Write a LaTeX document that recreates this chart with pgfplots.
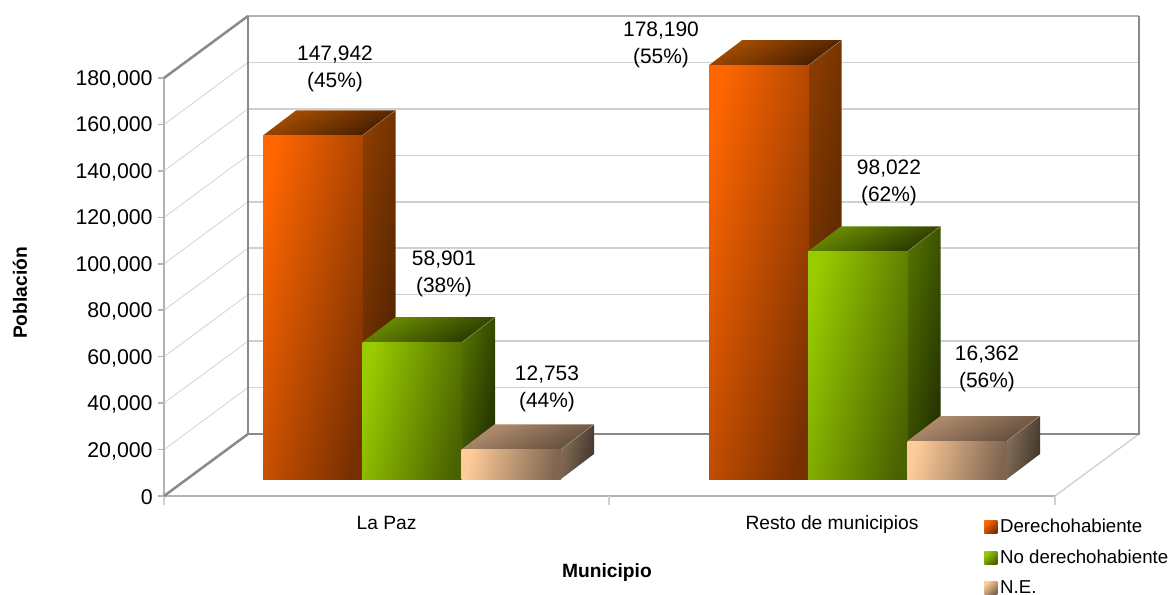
\documentclass[border=0pt]{standalone}
\usepackage{pgfplots}
\pgfplotsset{compat=1.18}
\usepackage{fontspec}
\setmainfont{Liberation Sans}

% colours: front light/dark, top light/dark, side light/dark
\definecolor{orFa}{HTML}{FF6600}\definecolor{orFb}{HTML}{783000}
\definecolor{orTa}{HTML}{AD5000}\definecolor{orTb}{HTML}{3F1C00}
\definecolor{orSa}{HTML}{8A3C00}\definecolor{orSb}{HTML}{451E00}
\definecolor{orE}{HTML}{B08060}
\definecolor{grFa}{HTML}{99CC00}\definecolor{grFb}{HTML}{4A6200}
\definecolor{grTa}{HTML}{6E9200}\definecolor{grTb}{HTML}{263300}
\definecolor{grSa}{HTML}{527000}\definecolor{grSb}{HTML}{1F2B00}
\definecolor{grE}{HTML}{8A9A60}
\definecolor{taFa}{HTML}{FFCC99}\definecolor{taFb}{HTML}{806650}
\definecolor{taTa}{HTML}{B89272}\definecolor{taTb}{HTML}{5E4A3A}
\definecolor{taSa}{HTML}{857059}\definecolor{taSb}{HTML}{40342A}
\definecolor{taE}{HTML}{A89888}
\definecolor{wallD}{HTML}{8A8A8A}
\definecolor{wallL}{HTML}{B3B3B3}
\definecolor{gridc}{HTML}{D0D0D0}

% 1 px = 0.75pt; 430.62 units per px on y. Depth of a bar 33 px, 25 px = 10766 units
\newcommand{\threeD}[3]{% left edge, value, colour prefix
  \edef\xa{\fpeval{#1+33}}\edef\xb{\fpeval{#1+99.5}}\edef\xc{\fpeval{#1+132.5}}\edef\xm{\fpeval{#1+49.75}}
  \edef\yt{\fpeval{#2+10766}}
  \addplot[forget plot,draw=none,yshift=12.75pt,top color=#3Sa,bottom color=#3Sb,shading angle=80]
    coordinates {(\xb,0)(\xc,10766)(\xc,\yt)(\xb,#2)} --cycle;
  \addplot[forget plot,draw=none,yshift=12.75pt,top color=#3Ta,bottom color=#3Tb,shading angle=25]
    coordinates {(#1,#2)(\xa,\yt)(\xc,\yt)(\xb,#2)} --cycle;
  \addplot[forget plot,#3E,line width=0.35pt,yshift=12.75pt] coordinates {(\xb,#2)(\xc,\yt)};
  \addplot[forget plot,ybar,bar width=74.6pt,bar shift=0pt,draw=none,yshift=12.75pt,top color=#3Fa,bottom color=#3Fb,shading angle=78]
    coordinates {(\xm,#2)};
}
\newcommand{\swatch}[1]{\addlegendimage{legend image code/.code={%
  \path[draw=none,top color=#1Fa,bottom color=#1Fb,shading angle=45] (0pt,-4.9pt) rectangle (9.75pt,4.9pt);}}}

\begin{document}
\begin{tikzpicture}
\useasboundingbox (-123pt,-73.5pt) rectangle (755.25pt,372pt);
\begin{axis}[
    scale only axis,
    width=731.25pt,
    height=360pt,
    xmin=164, xmax=1139,
    ymin=0, ymax=206700,
    clip=false,
    axis line style={draw=none},
    axis x line*=bottom,
    axis y line*=left,
    font=\fontsize{16}{18}\selectfont,
    ytick={0,20000,40000,60000,80000,100000,120000,140000,160000,180000},
    scaled y ticks=false,
    yticklabel style={yshift=-1.1pt,xshift=-0.5pt,/pgf/number format/.cd,fixed,1000 sep={,},assume math mode=true},
    y tick style={draw=wallL,line width=1.1pt},
    major tick length=4.5pt,
    tick align=outside,
    tick pos=left,
    xtick={386.5,832},
    xticklabels={La Paz,Resto de municipios},
    x tick style={draw=none},
    xticklabel style={font=\fontsize{14.4}{17}\selectfont,yshift=-7pt},
    xlabel={\textbf{Municipio}},
    ylabel={\textbf{Población}},
    xlabel style={font=\fontsize{14.4}{17}\selectfont,at={(axis description cs:0.4543,-0.1604)},anchor=center},
    ylabel style={font=\fontsize{14.4}{17}\selectfont,at={(axis description cs:-0.1477,0.4229)},anchor=center},
    legend style={at={(axis description cs:0.8415,-0.0425)},anchor=north west,draw=none,fill=none,
      inner sep=0pt,outer sep=0pt,font=\fontsize{14}{16}\selectfont,
      /tikz/every even column/.append style={column sep=3.5pt},
      /tikz/row sep=7.4pt},
    legend cell align=left,
]
% walls: grid lines first, frame over them
\pgfplotsinvokeforeach{20000,40000,60000,80000,100000,120000,140000,160000}{
  \edef\yb{\fpeval{#1+26699}}
  \addplot[forget plot,gridc,line width=0.55pt] coordinates {(164,#1)(248,\yb)};
  \addplot[forget plot,gridc,line width=1.1pt] coordinates {(248,\yb)(1139,\yb)};
}
\addplot[forget plot,gridc,line width=1pt] coordinates {(1055,0)(1139,26699)};
\addplot[forget plot,wallL,line width=1.7pt] coordinates {(164,0)(1055,0)};
\addplot[forget plot,wallL,line width=1.9pt] coordinates {(164,0)(164,180000)};
\addplot[forget plot,gridc,line width=1pt] coordinates {(164,0)(164,-3900)};
\addplot[forget plot,gridc,line width=1pt] coordinates {(609,0)(609,-3900)};
\addplot[forget plot,gridc,line width=1pt] coordinates {(1055,0)(1055,-3900)};
\addplot[forget plot,wallD,line width=1.9pt] coordinates {(164,0)(248,26699)};
\addplot[forget plot,wallD,line width=1.9pt] coordinates {(164,180000)(248,206699)};
\addplot[forget plot,wallL,line width=2pt] coordinates {(248,206699)(1139,206699)};
\addplot[forget plot,wallD,line width=2.2pt] coordinates {(248,206699)(248,26699)(1139,26699)(1139,206699)};

% La Paz
\threeD{263}{147942}{or}
\threeD{362.5}{58901}{gr}
\threeD{461.5}{12753}{ta}
% Resto de municipios
\threeD{709}{178190}{or}
\threeD{808}{98022}{gr}
\threeD{907.5}{16362}{ta}

\swatch{or}\addlegendentry{Derechohabiente}
\swatch{gr}\addlegendentry{No derechohabiente}
\swatch{ta}\addlegendentry{N.E.}
\end{axis}
% data labels, (x-164)*.75pt, (496-y)*.75pt
\begin{scope}[every node/.style={align=center,font=\fontsize{15.7}{20.25}\selectfont,inner sep=0pt}]
\node at (128.25pt,320.7pt) {147,942\\(45\%)};
\node at (210pt,166.9pt) {58,901\\(38\%)};
\node at (287.25pt,80.7pt) {12,753\\(44\%)};
\node at (372.75pt,338.7pt) {178,190\\(55\%)};
\node at (543.75pt,235.2pt) {98,022\\(62\%)};
\node at (617.25pt,95.7pt) {16,362\\(56\%)};
\end{scope}
\end{tikzpicture}
\end{document}
